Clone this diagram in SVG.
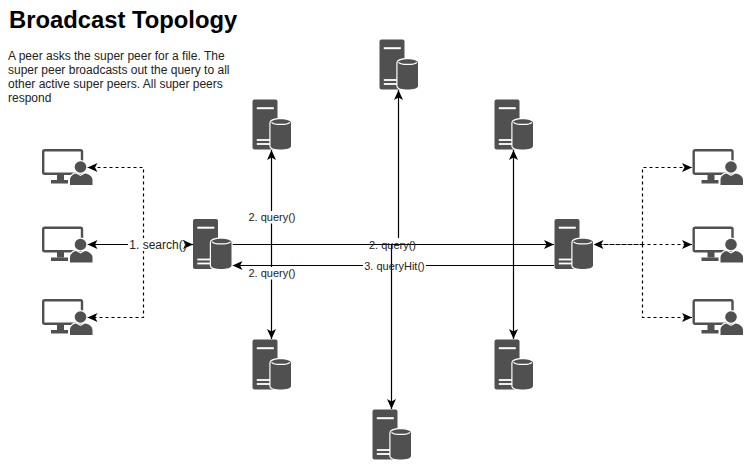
<svg xmlns="http://www.w3.org/2000/svg" width="751" height="472" viewBox="0 0 751 472">
<style>
text{font-family:"Liberation Sans",Arial,sans-serif;fill:#222}
.title{font-size:23.8px;font-weight:bold;fill:#000}
.body{font-size:12px}
.lbl{font-size:11px;text-anchor:middle}
.bg{fill:#fff}
.c{fill:none;stroke:#000;stroke-width:1.2}
.s{stroke-dasharray:3 3}
.a{marker-end:url(#arrow)}
.ico{fill:#505050}
.halo{paint-order:stroke;stroke:#fff;stroke-width:2.4}
</style>
<defs>
<marker id="arrow" markerUnits="userSpaceOnUse" markerWidth="12" markerHeight="10" refX="10" refY="5" orient="auto"><path d="M10,5 L0,0.5 L2.5,5 L0,9.5 Z" fill="#000"/></marker>
<symbol id="server" width="40" height="52" viewBox="0 0 40 52" overflow="visible">
<rect class="ico" x="0" y="0" width="25" height="50" rx="2"/>
<rect x="4.300" y="7.700" width="17" height="2" fill="#fff"/>
<rect x="4.300" y="39.600" width="14" height="1.800" fill="#fff"/>
<rect x="4.300" y="43.600" width="14" height="1.800" fill="#fff"/>
<path class="ico halo" d="M18,23.500 C18,21 23,19.800 28.200,19.800 C33.500,19.800 38.500,21 38.500,23.500 L38.500,46.500 C38.500,49 33.500,50 28.200,50 C23,50 18,49 18,46.500 Z"/>
<path d="M19,22.800 C21.500,25.600 35,25.600 37.500,22.800" fill="none" stroke="#fff" stroke-width="1.200"/>
</symbol>
<symbol id="peer" width="52" height="38" viewBox="0 0 52 38" overflow="visible">
<rect x="1.200" y="1.200" width="38.800" height="23.600" rx="1.500" fill="none" stroke="#505050" stroke-width="2.400"/>
<rect class="ico" x="15" y="25" width="7" height="6"/>
<rect class="ico" x="9" y="31" width="17" height="3.500"/>
<path class="ico halo" d="M28,36 L28,31 C28,27.500 31,25 34,24.500 L38.500,27 L43,24.500 C47,25 50.500,27.500 50.500,31 L50.500,36 Z"/>
<circle class="ico halo" cx="38.500" cy="18" r="5.800"/>
</symbol>
</defs>
<g id="connectors">
<path class="c s a" d="M143.500,244.500 V167.500 H87.500"/>
<path class="c s a" d="M143.500,244.500 V317.500 H87.500"/>
<path class="c s a" d="M642.500,244.500 H593.500"/>
<path class="c s a" d="M593.500,244.500 H692"/>
<path class="c s a" d="M642.500,244.500 V167.500 H692"/>
<path class="c s a" d="M642.500,244.500 V317.500 H692"/>
<path class="c a" d="M271.500,244.500 V150"/>
<path class="c a" d="M271.500,244.500 V339"/>
<path class="c a" d="M513.500,244.500 V150"/>
<path class="c a" d="M513.500,244.500 V339"/>
<path class="c a" d="M398.500,244.500 V90"/>
<path class="c a" d="M554,265.500 H232.500"/>
<rect class="bg" x="128" y="238" width="59" height="13"/>
<rect class="bg" x="248" y="211" width="48" height="12.500"/>
<rect class="bg" x="248" y="267" width="48" height="12.500"/>
<rect class="bg" x="368" y="238" width="48" height="13"/>
<rect class="bg" x="363" y="260" width="63" height="12"/>
<path class="c a" d="M128,244.500 H87.500"/>
<path class="c a" d="M186,244.500 H193"/>
<path class="c a" d="M232,244.500 H554"/>
<path class="c a" d="M391.500,244.500 V409"/>
</g>
<g id="labels">
<text class="lbl" style="font-size:12px" x="158" y="248.700">1. search()</text>
<text class="lbl" x="272" y="220.500">2. query()</text>
<text class="lbl" x="272" y="276.500">2. query()</text>
<text class="lbl" x="392.500" y="248.500">2. query()</text>
<text class="lbl" x="394.500" y="269.500">3. queryHit()</text>
</g>
<g id="title"><text class="title" x="9" y="28">Broadcast Topology</text></g>
<g id="description">
<text class="body" x="8" y="60">A peer asks the super peer for a file. The</text>
<text class="body" x="8" y="74">super peer broadcasts out the query to all</text>
<text class="body" x="8" y="88">other active super peers. All super peers</text>
<text class="body" x="8" y="102">respond</text>
</g>
<g id="server-center-left"><use href="#server" x="193" y="219"/></g>
<g id="server-center-right"><use href="#server" x="554.500" y="219"/></g>
<g id="server-top"><use href="#server" x="379.500" y="39.500"/></g>
<g id="server-top-left"><use href="#server" x="252.500" y="99.500"/></g>
<g id="server-top-right"><use href="#server" x="494.500" y="99.500"/></g>
<g id="server-bottom-left"><use href="#server" x="252.500" y="339.500"/></g>
<g id="server-bottom-right"><use href="#server" x="494.500" y="339.500"/></g>
<g id="server-bottom"><use href="#server" x="372.500" y="409.500"/></g>
<g id="peer-left-1"><use href="#peer" x="42" y="149"/></g>
<g id="peer-left-2"><use href="#peer" x="42" y="226.500"/></g>
<g id="peer-left-3"><use href="#peer" x="42" y="299"/></g>
<g id="peer-right-1"><use href="#peer" x="692.500" y="149"/></g>
<g id="peer-right-2"><use href="#peer" x="692.500" y="226.500"/></g>
<g id="peer-right-3"><use href="#peer" x="692.500" y="299"/></g>
</svg>
